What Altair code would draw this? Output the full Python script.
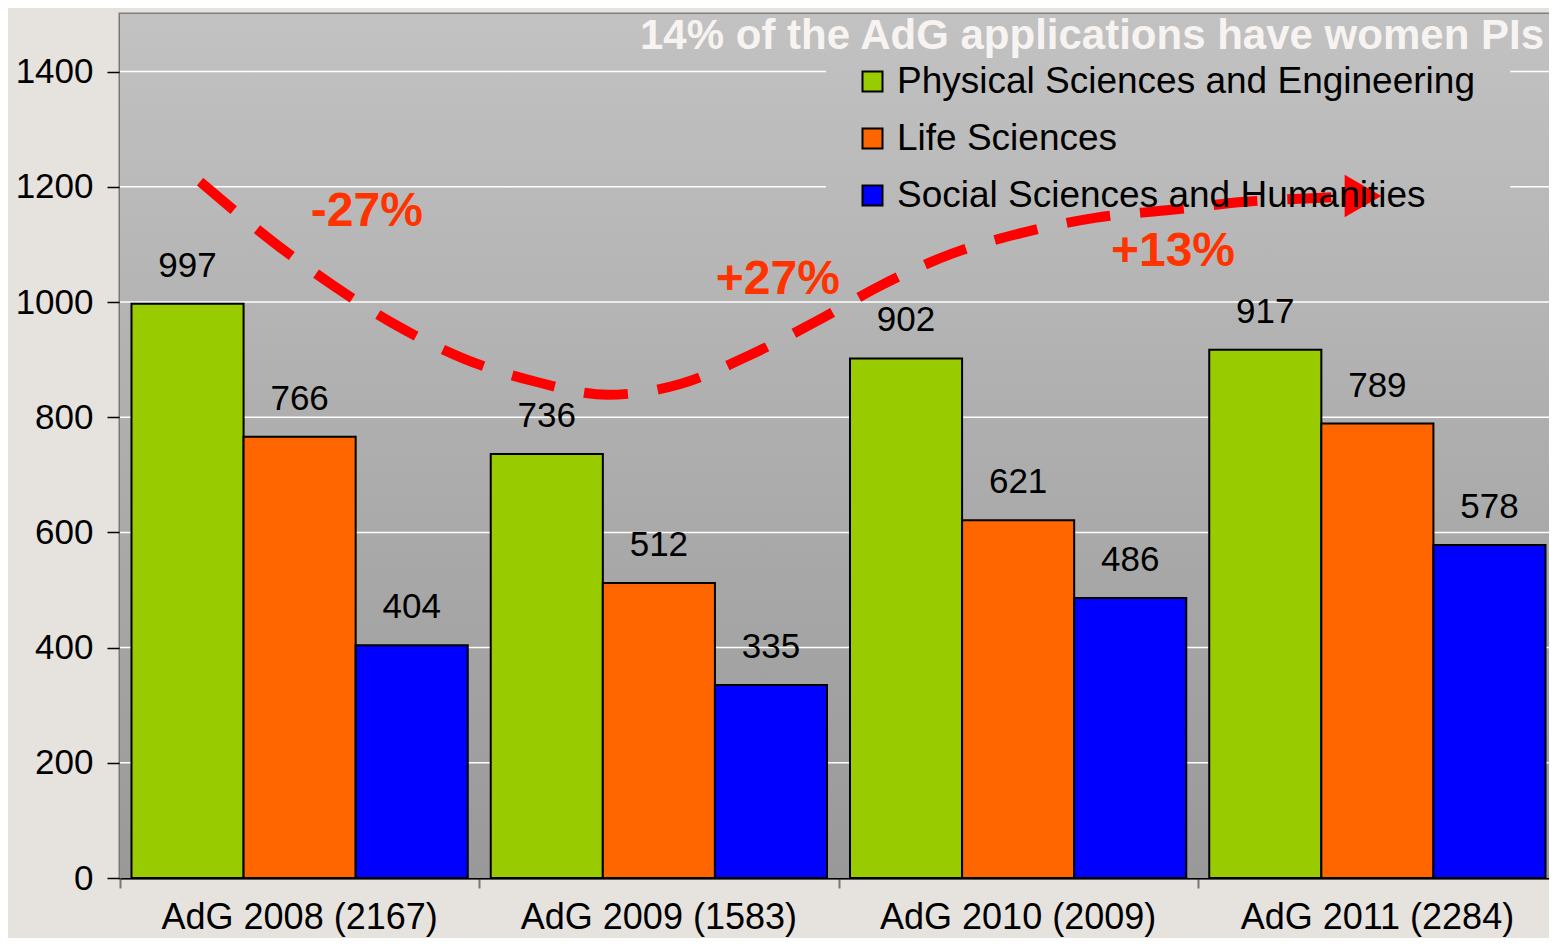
import altair as alt
import pandas as pd

groups = ["AdG 2008 (2167)", "AdG 2009 (1583)", "AdG 2010 (2009)", "AdG 2011 (2284)"]
fields = ["Physical Sciences and Engineering", "Life Sciences", "Social Sciences and Humanities"]
pe_values = [997, 736, 902, 917]
ls_values = [766, 512, 621, 789]
sh_values = [404, 335, 486, 578]
colors = ["#99cc00", "#ff6600", "#0000ff"]
y_ticks = [0, 200, 400, 600, 800, 1000, 1200, 1400]
group_edges = [0, 1, 2, 3, 4]

# gridline segments (value, start, end in group units); the legend box leaves a gap
grid_v = [200, 400, 600, 800, 1000, 1200, 1200, 1400, 1400]
grid_x0 = [0, 0, 0, 0, 0, 0, 3.87, 0, 3.87]
grid_x1 = [4, 4, 4, 4, 4, 1.965, 4, 1.965, 4]

# trend curve (x in group units, y in value units)
curve_x = [0.223, 0.429, 0.595, 0.771, 0.960, 1.155, 1.358, 1.562, 1.754, 1.943, 2.116, 2.316, 2.511, 2.714, 2.928, 3.132, 3.346, 3.424]
curve_y = [1209, 1103, 1028, 959, 901, 862, 839, 858, 908, 968, 1028, 1084, 1120, 1146, 1160, 1174, 1181, 1183]
arrow_x = [3.46]
arrow_y = [1184]
pct_labels = ["-27%", "+27%", "+13%"]
pct_x = [0.687, 1.831, 2.931]
pct_y = [1157, 1039, 1087]
title_text = "14% of the AdG applications have women PIs"

W, H = 1437, 864
FONT = "Liberation Sans, Arial, sans-serif"

rows = []
for i, g in enumerate(groups):
    for f, vals in zip(fields, [pe_values, ls_values, sh_values]):
        rows.append({"group": g, "field": f, "value": vals[i]})
df = pd.DataFrame(rows)
curve_df = pd.DataFrame({"cx": curve_x, "cy": curve_y, "order": list(range(len(curve_x)))})
arrow_df = pd.DataFrame({"cx": arrow_x, "cy": arrow_y})
pct_df = pd.DataFrame({"cx": pct_x, "cy": pct_y, "label": pct_labels})
grid_df = pd.DataFrame({"v": grid_v, "x0": grid_x0, "x1": grid_x1})
edge_df = pd.DataFrame({"e": group_edges})
title_df = pd.DataFrame({"t": [title_text]})

yscale = alt.Scale(domain=[0, 1500], nice=False)
cxscale = alt.Scale(domain=[0, 4], nice=False, zero=False)
y_axis = alt.Axis(values=y_ticks, grid=False, format="d", labelFont=FONT, labelFontSize=35,
                  labelColor="black", labelPadding=14, tickSize=13, tickColor="black",
                  tickWidth=1.5, domainColor="#707070", domainWidth=2, title=None)

bg = alt.Chart(title_df).mark_rect(
    color=alt.LinearGradient(
        gradient="linear", x1=0, y1=0, x2=0, y2=1,
        stops=[alt.GradientStop(color="#c2c2c2", offset=0), alt.GradientStop(color="#999999", offset=1)],
    )
).encode(x=alt.value(0), x2=alt.value(W), y=alt.value(0), y2=alt.value(H))

grid = alt.Chart(grid_df).mark_rule(color="white", strokeWidth=1.5).encode(
    x=alt.X("x0:Q", scale=cxscale, axis=None),
    x2="x1:Q",
    y=alt.Y("v:Q", scale=yscale, axis=y_axis),
)

edge_ticks = alt.Chart(edge_df).mark_rule(opacity=0).encode(
    x=alt.X("e:Q", scale=cxscale,
            axis=alt.Axis(values=group_edges, labels=False, domain=False, grid=False, ticks=True,
                          tickSize=10, tickColor="#777777", tickWidth=2, orient="bottom", title=None)),
    y=alt.Y("v:Q", scale=yscale, axis=y_axis),
).transform_calculate(v="0")

xband = alt.X("group:N", sort=groups, title=None,
              scale=alt.Scale(paddingInner=0.064, paddingOuter=0.032),
              axis=alt.Axis(labelAngle=0, labelFont=FONT, labelFontSize=36, labelColor="black",
                            labelPadding=22, ticks=False, domainColor="black", domainWidth=2,
                            labelLimit=400, orient="bottom"))
xoff = alt.XOffset("field:N", sort=fields, scale=alt.Scale(paddingInner=0, paddingOuter=0))

bars = alt.Chart(df).mark_bar(stroke="black", strokeWidth=2).encode(
    x=xband,
    xOffset=xoff,
    y=alt.Y("value:Q", scale=yscale, axis=y_axis),
    color=alt.Color("field:N", sort=fields,
                    scale=alt.Scale(domain=fields, range=colors),
                    legend=alt.Legend(title=None, orient="none", legendX=722, legendY=37,
                                      symbolType="square", symbolSize=400, symbolStrokeColor="black",
                                      symbolStrokeWidth=2, symbolOpacity=1,
                                      labelFont=FONT, labelFontSize=37, labelColor="black",
                                      labelOffset=6, labelLimit=800, rowPadding=19,
                                      padding=12)),
)

labels = alt.Chart(df).mark_text(font=FONT, fontSize=35, color="black", baseline="alphabetic", dy=-27).encode(
    x=xband,
    xOffset=xoff,
    y=alt.Y("value:Q", scale=yscale, axis=y_axis),
    text=alt.Text("value:Q"),
)

bar_layer = alt.layer(bars, labels)

curve = alt.Chart(curve_df).mark_line(
    color="#ff0000", strokeWidth=10, strokeDash=[44, 30], interpolate="monotone", strokeCap="butt"
).encode(
    x=alt.X("cx:Q", scale=cxscale, axis=None),
    y=alt.Y("cy:Q", scale=yscale, axis=y_axis),
    order="order:Q",
)

arrow = alt.Chart(arrow_df).mark_point(shape="triangle-right", filled=True, color="#ff0000",
                                       size=1800, opacity=1, strokeWidth=0).encode(
    x=alt.X("cx:Q", scale=cxscale, axis=None),
    y=alt.Y("cy:Q", scale=yscale, axis=y_axis),
)

pct = alt.Chart(pct_df).mark_text(font=FONT, fontSize=48, fontWeight="bold", color="#ff3300",
                                  baseline="middle", align="center").encode(
    x=alt.X("cx:Q", scale=cxscale, axis=None),
    y=alt.Y("cy:Q", scale=yscale, axis=y_axis),
    text="label:N",
)

title = alt.Chart(title_df).mark_text(font=FONT, fontSize=42, fontWeight="bold", color="#f7f3f1",
                                      align="right", baseline="middle").encode(
    x=alt.value(W - 13), y=alt.value(22), text="t:N"
)

chart = alt.layer(bg, grid, edge_ticks, bar_layer, curve, arrow, pct, title).resolve_scale(
    x="independent"
).properties(
    width=W, height=H,
    padding={"left": 112, "top": 6, "right": -8, "bottom": 60},
    autosize=alt.AutoSizeParams(type="none"),
    background="#e6e2de",
).configure_view(stroke="#7f7f7f", strokeWidth=3)

chart.save("out.html", embed_options={"renderer": "svg", "actions": False})
